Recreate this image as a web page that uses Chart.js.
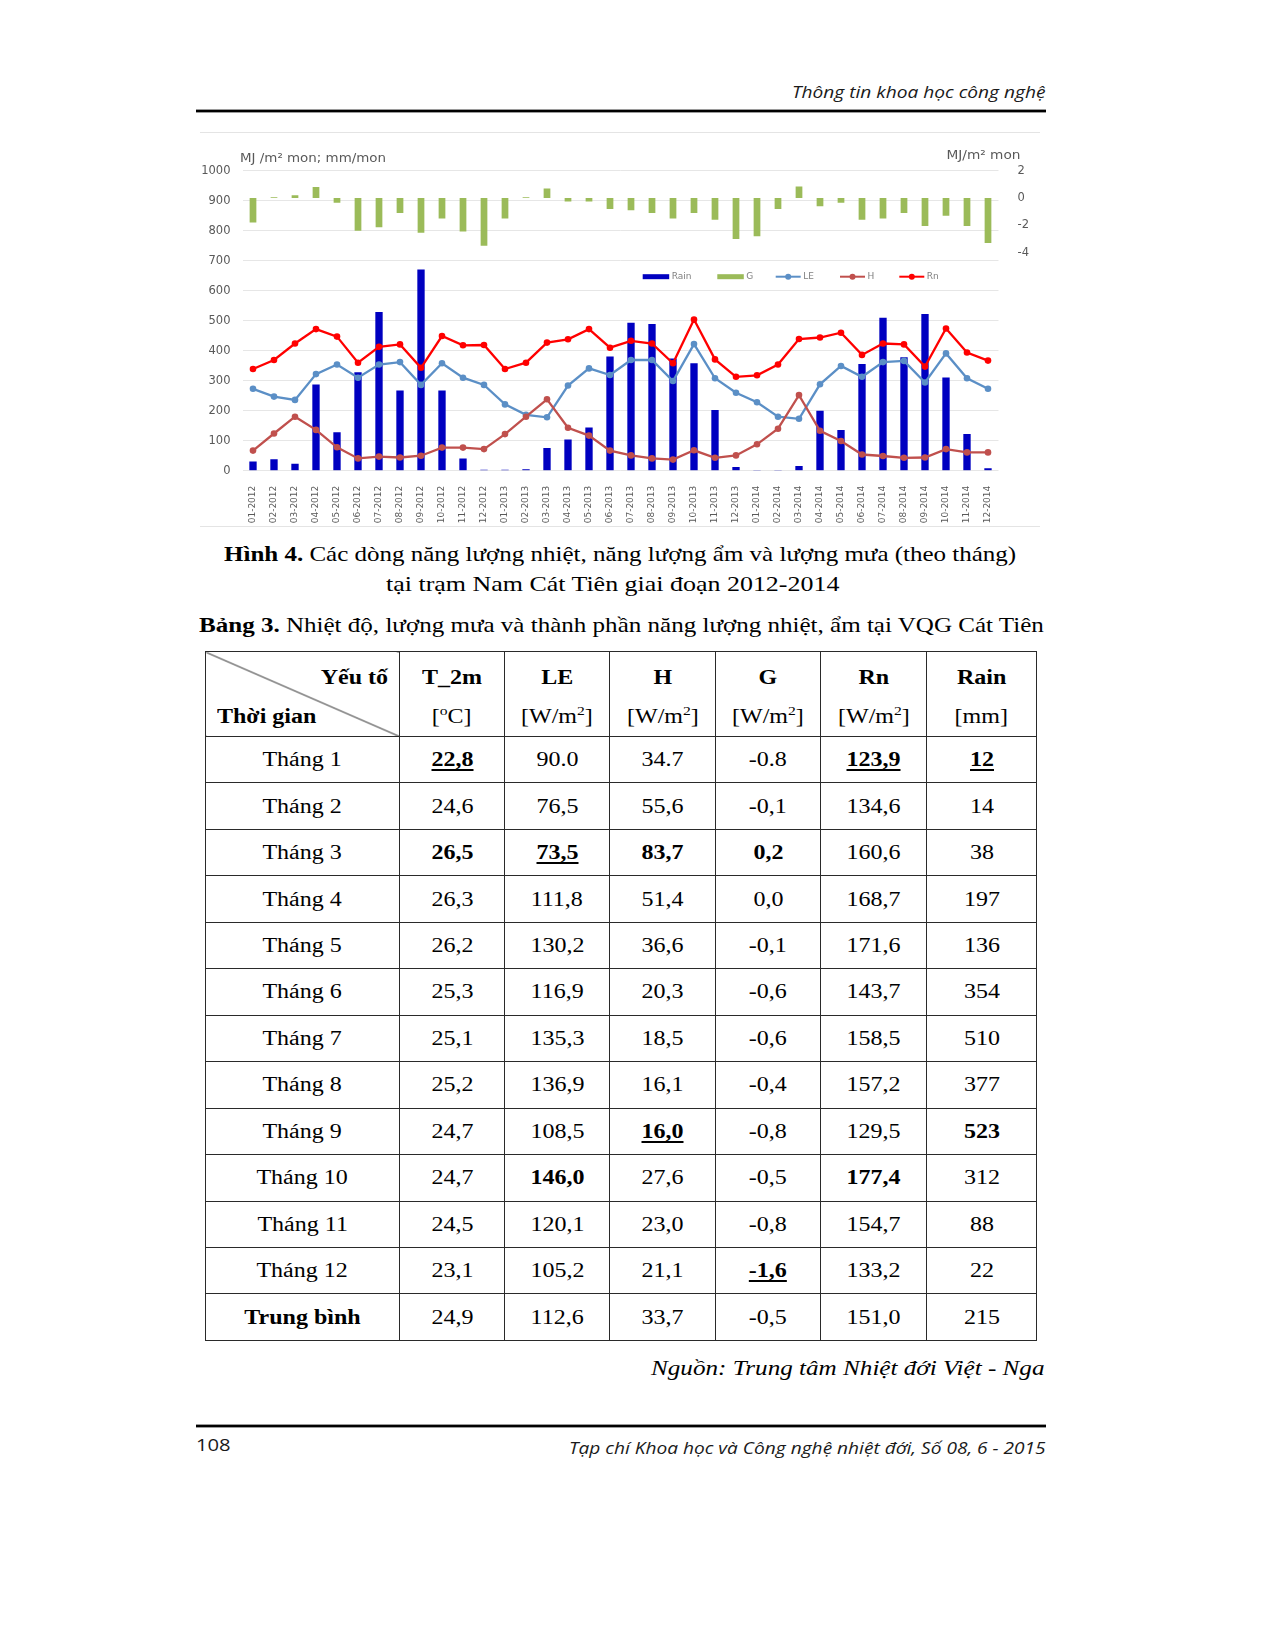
<!DOCTYPE html>
<html lang="vi">
<head>
<meta charset="utf-8">
<title>Hình 4 - Nam Cát Tiên 2012-2014</title>
<script src="https://cdn.jsdelivr.net/npm/chart.js@4.4.1/dist/chart.umd.min.js"></script>
<style>
html, body { margin:0; padding:0; background:#fff; }
body { position:relative; width:1274px; height:1649px; overflow:hidden; }
.txt { position:absolute; white-space:nowrap; }
.fit { display:inline-block; }
.cal { font-family:"Open Sans", sans-serif; font-style:italic; color:#1a1a1a; }
.tnr { font-family:"Liberation Serif", "Times New Roman", serif; color:#000; }
.rule { position:absolute; left:196px; width:850px; height:2px; background:#000; border-top:1px solid #9a9a9a; border-bottom:1px solid #9a9a9a; }
#chartBox { position:absolute; left:200px; top:132px; width:840px; height:393px; border-top:1px solid #e4e4e4; border-bottom:1px solid #e4e4e4; }
#tbl { position:absolute; left:205px; top:651px; border-collapse:collapse; table-layout:fixed;
       font-family:"Liberation Serif", "Times New Roman", serif; font-size:20px; color:#000; }
#tbl td { border:1px solid #2a2a2a; padding:0; text-align:center; vertical-align:middle; }
#tbl td.hd { vertical-align:top; padding-top:6px; line-height:39px; }
#tbl td.corner { background:linear-gradient(to top right, transparent calc(50% - 0.9px), #222 50%, transparent calc(50% + 0.9px)); }
.sx { display:inline-block; transform:scaleX(1.2); transform-origin:50% 50%; }
.sxl { display:inline-block; transform:scaleX(1.2); transform-origin:0 50%; }
.sxr { display:inline-block; transform:scaleX(1.2); transform-origin:100% 50%; }
.b { font-weight:bold; }
.bu { font-weight:bold; text-decoration:underline; text-decoration-thickness:1.5px; text-underline-offset:3px; }
sup { font-size:13px; line-height:0; vertical-align:8px; }
</style>
</head>
<body>

<div class="txt cal" data-x="792.2" data-w="253.5" style="top:80px;font-size:17px;line-height:24px;"><span class="fit">Thông tin khoa học công nghệ</span></div>
<div class="rule" style="top:109px;"></div>

<div id="chartBox"><canvas id="flux" width="840" height="393"></canvas></div>

<div class="txt tnr" data-x="224.1" data-w="792.2" style="top:539px;font-size:21px;line-height:30px;"><span class="fit"><b>Hình 4.</b> Các dòng năng lượng nhiệt, năng lượng ẩm và lượng mưa (theo tháng)</span></div>
<div class="txt tnr" data-x="386.1" data-w="453.4" style="top:569px;font-size:21px;line-height:30px;"><span class="fit">tại trạm Nam Cát Tiên giai đoạn 2012-2014</span></div>
<div class="txt tnr" data-x="198.8" data-w="844.8" style="top:610px;font-size:21px;line-height:30px;"><span class="fit"><b>Bảng 3.</b> Nhiệt độ, lượng mưa và thành phần năng lượng nhiệt, ẩm tại VQG Cát Tiên</span></div>

<table id="tbl"></table>

<div class="txt tnr" data-x="651.2" data-w="393.5" style="top:1353px;font-size:21px;line-height:30px;font-style:italic;"><span class="fit">Nguồn: Trung tâm Nhiệt đới Việt - Nga</span></div>

<div class="rule" style="top:1424px;"></div>
<div class="txt cal" data-x="195.7" data-w="34.7" style="top:1433px;font-size:17px;line-height:24px;font-style:normal;"><span class="fit">108</span></div>
<div class="txt cal" data-x="569.1" data-w="476.6" style="top:1436px;font-size:17px;line-height:24px;"><span class="fit">Tạp chí Khoa học và Công nghệ nhiệt đới, Số 08, 6 - 2015</span></div>

<script>
// ---- chart data ----
var months = ['01-2012','02-2012','03-2012','04-2012','05-2012','06-2012','07-2012','08-2012','09-2012','10-2012','11-2012','12-2012',
              '01-2013','02-2013','03-2013','04-2013','05-2013','06-2013','07-2013','08-2013','09-2013','10-2013','11-2013','12-2013',
              '01-2014','02-2014','03-2014','04-2014','05-2014','06-2014','07-2014','08-2014','09-2014','10-2014','11-2014','12-2014'];
var rain = [31, 38, 23, 287, 128, 328, 529, 267, 671, 267, 41, 3,
            3, 5, 76, 104, 144, 381, 493, 489, 374, 358, 202, 12,
            1, 1, 16, 200, 136, 356, 510, 378, 522, 311, 122, 8];
var gFlux = [-1.8, 0.05, 0.2, 0.8, -0.35, -2.4, -2.15, -1.1, -2.55, -1.5, -2.45, -3.5,
             -1.5, 0.05, 0.7, -0.25, -0.25, -0.8, -0.9, -1.1, -1.5, -1.1, -1.6, -3.0,
             -2.8, -0.8, 0.85, -0.6, -0.35, -1.6, -1.5, -1.1, -2.05, -1.3, -2.05, -3.3];
var le = [273, 247, 236, 322, 354, 310, 354, 362, 286, 358, 310, 286,
          221, 186, 178, 284, 341, 319, 369, 369, 299, 422, 308, 260,
          228, 180, 173, 288, 349, 313, 362, 366, 294, 391, 308, 273];
var h = [67, 124, 180, 136, 78, 41, 47, 44, 50, 77, 77, 72,
         122, 180, 238, 143, 117, 67, 51, 41, 37, 68, 43, 51,
         88, 140, 252, 133, 99, 54, 49, 43, 44, 72, 61, 61];
var rn = [339, 369, 424, 472, 447, 360, 413, 421, 343, 449, 418, 419,
          339, 360, 427, 438, 472, 410, 433, 424, 358, 504, 371, 313,
          318, 354, 439, 444, 460, 386, 424, 421, 347, 474, 394, 367];
var rightTicksShown = [2, 0, -2, -4];

// ---- table data ----
var rowNames = ['Tháng 1','Tháng 2','Tháng 3','Tháng 4','Tháng 5','Tháng 6','Tháng 7','Tháng 8','Tháng 9','Tháng 10','Tháng 11','Tháng 12','Trung bình'];
var headNames = ['T_2m','LE','H','G','Rn','Rain'];
var headUnits = ['[<sup>o</sup>C]','[W/m<sup>2</sup>]','[W/m<sup>2</sup>]','[W/m<sup>2</sup>]','[W/m<sup>2</sup>]','[mm]'];
var colT2m = ['22,8','24,6','26,5','26,3','26,2','25,3','25,1','25,2','24,7','24,7','24,5','23,1','24,9'];
var colLE = ['90.0','76,5','73,5','111,8','130,2','116,9','135,3','136,9','108,5','146,0','120,1','105,2','112,6'];
var colH = ['34.7','55,6','83,7','51,4','36,6','20,3','18,5','16,1','16,0','27,6','23,0','21,1','33,7'];
var colG = ['-0.8','-0,1','0,2','0,0','-0,1','-0,6','-0,6','-0,4','-0,8','-0,5','-0,8','-1,6','-0,5'];
var colRn = ['123,9','134,6','160,6','168,7','171,6','143,7','158,5','157,2','129,5','177,4','154,7','133,2','151,0'];
var colRain = ['12','14','38','197','136','354','510','377','523','312','88','22','215'];
var boldCells = ['2,0','2,2','2,3','8,5','9,1','9,4'];
var boldUnderCells = ['0,0','0,4','0,5','2,1','8,2','11,3'];

// build table
var cols = [colT2m, colLE, colH, colG, colRn, colRain];
var html = '<colgroup><col style="width:194px"><col style="width:105px"><col style="width:105px"><col style="width:106px">' +
           '<col style="width:105px"><col style="width:106px"><col style="width:110px"></colgroup>';
html += '<tr style="height:84px"><td class="hd corner">' +
        '<div style="text-align:right;padding-right:11px;"><span class="sxr b">Yếu tố</span></div>' +
        '<div style="text-align:left;padding-left:11px;"><span class="sxl b">Thời gian</span></div></td>';
for (var c = 0; c < headNames.length; c++) {
  html += '<td class="hd"><div><span class="sx b">' + headNames[c] + '</span></div><div><span class="sx">' + headUnits[c] + '</span></div></td>';
}
html += '</tr>';
for (var r = 0; r < rowNames.length; r++) {
  var last = r === rowNames.length - 1;
  html += '<tr style="height:46.46px"><td><span class="sx' + (last ? ' b' : '') + '">' + rowNames[r] + '</span></td>';
  for (var c2 = 0; c2 < cols.length; c2++) {
    var key = r + ',' + c2;
    var cls = boldUnderCells.indexOf(key) >= 0 ? ' bu' : (boldCells.indexOf(key) >= 0 ? ' b' : '');
    html += '<td><span class="sx' + cls + '">' + cols[c2][r] + '</span></td>';
  }
  html += '</tr>';
}
document.getElementById('tbl').innerHTML = html;

// stretch page text to the widths seen in the scan
document.querySelectorAll('[data-w]').forEach(function(el) {
  var sp = el.firstElementChild;
  el.style.left = el.dataset.x + 'px';
  var k = parseFloat(el.dataset.w) / sp.getBoundingClientRect().width;
  sp.style.transformOrigin = '0 50%';
  sp.style.transform = 'scaleX(' + k.toFixed(4) + ')';
});

// ---- chart ----
Chart.defaults.font.family = '"DejaVu Sans", sans-serif';
Chart.defaults.color = '#595959';

var PLOT_TOP = 37.7, Y_W = 42.5, Y2_W = 41.5, X_H = 55.3;

function fitText(ctx, text, x, y, w) {
  var m = ctx.measureText(text).width;
  ctx.save();
  ctx.translate(x, y);
  ctx.scale(w / m, 1);
  ctx.fillText(text, 0, 0);
  ctx.restore();
}

var fluxDecor = {
  id: 'fluxDecor',
  afterDraw: function(chart) {
    var ctx = chart.ctx, a = chart.chartArea;
    ctx.save();
    ctx.fillStyle = '#595959';
    ctx.textBaseline = 'middle';
    ctx.textAlign = 'left';
    ctx.font = '12px "DejaVu Sans"';
    fitText(ctx, 'MJ /m² mon; mm/mon', a.left - 2.5, a.top - 11.7, 146);
    fitText(ctx, 'MJ/m² mon', a.right - 52, a.top - 14.7, 74);

    // legend, inside the plot like the Excel original
    var items = [['Rain', 400.2, 'box'], ['G', 474.8, 'box'], ['LE', 533.2, 'line'], ['H', 597.5, 'line'], ['Rn', 656.8, 'line']];
    var ly = a.top + 106;
    ctx.font = '9px "DejaVu Sans"';
    items.forEach(function(it) {
      var ds = chart.data.datasets.find(function(d) { return d.label === it[0]; });
      var x0 = a.left + it[1];
      var sw = it[2] === 'box' ? 26.5 : 25;
      if (it[2] === 'box') {
        ctx.fillStyle = ds.backgroundColor;
        ctx.fillRect(x0, ly - 2.5, sw, 5);
      } else {
        ctx.strokeStyle = ds.borderColor;
        ctx.lineWidth = 2;
        ctx.beginPath(); ctx.moveTo(x0, ly); ctx.lineTo(x0 + sw, ly); ctx.stroke();
        ctx.fillStyle = ds.borderColor;
        ctx.beginPath(); ctx.arc(x0 + sw / 2, ly, 3, 0, Math.PI * 2); ctx.fill();
      }
      ctx.fillStyle = '#808080';
      ctx.fillText(it[0], x0 + sw + 2.5, ly);
    });
    ctx.restore();
  }
};

function lineSet(label, data, color, order) {
  return {
    type: 'line', label: label, data: data, yAxisID: 'y', order: order,
    borderColor: color, backgroundColor: color, borderWidth: 2.3, tension: 0,
    pointRadius: 3.3, pointBackgroundColor: color, pointBorderWidth: 0
  };
}

new Chart(document.getElementById('flux'), {
  data: {
    labels: months,
    datasets: [
      lineSet('Rn', rn, '#ff0000', 0),
      lineSet('H', h, '#c0504d', 1),
      lineSet('LE', le, '#5b8fc6', 2),
      { type: 'bar', label: 'Rain', data: rain, yAxisID: 'y', order: 3, grouped: false,
        backgroundColor: '#0000c0', barPercentage: 0.35, categoryPercentage: 1 },
      { type: 'bar', label: 'G', data: gFlux, yAxisID: 'y2', order: 4, grouped: false,
        backgroundColor: '#9bbb59', barPercentage: 0.32, categoryPercentage: 1 }
    ]
  },
  options: {
    responsive: false,
    animation: false,
    layout: { padding: { top: PLOT_TOP, left: 0, right: 0, bottom: 0 } },
    plugins: { legend: { display: false }, tooltip: { enabled: false } },
    scales: {
      x: {
        grid: { display: false }, border: { display: false },
        ticks: { autoSkip: false, minRotation: 90, maxRotation: 90, padding: 7, font: { size: 9 } },
        afterFit: function(s) { s.height = X_H; }
      },
      y: {
        position: 'left', min: 0, max: 1000,
        ticks: { stepSize: 100, padding: 12, font: { size: 11.5 },
                 callback: function(v) { return String(v); } },
        grid: { color: '#e6e6e6', drawTicks: false }, border: { display: false },
        afterFit: function(s) { s.width = Y_W; }
      },
      y2: {
        position: 'right', min: -20, max: 2,
        ticks: { stepSize: 2, padding: 11, font: { size: 11.5 },
                 callback: function(v) { return rightTicksShown.indexOf(v) >= 0 ? String(v) : ''; } },
        grid: { display: false }, border: { display: false },
        afterFit: function(s) { s.width = Y2_W; }
      }
    }
  },
  plugins: [fluxDecor]
});
</script>
</body>
</html>
